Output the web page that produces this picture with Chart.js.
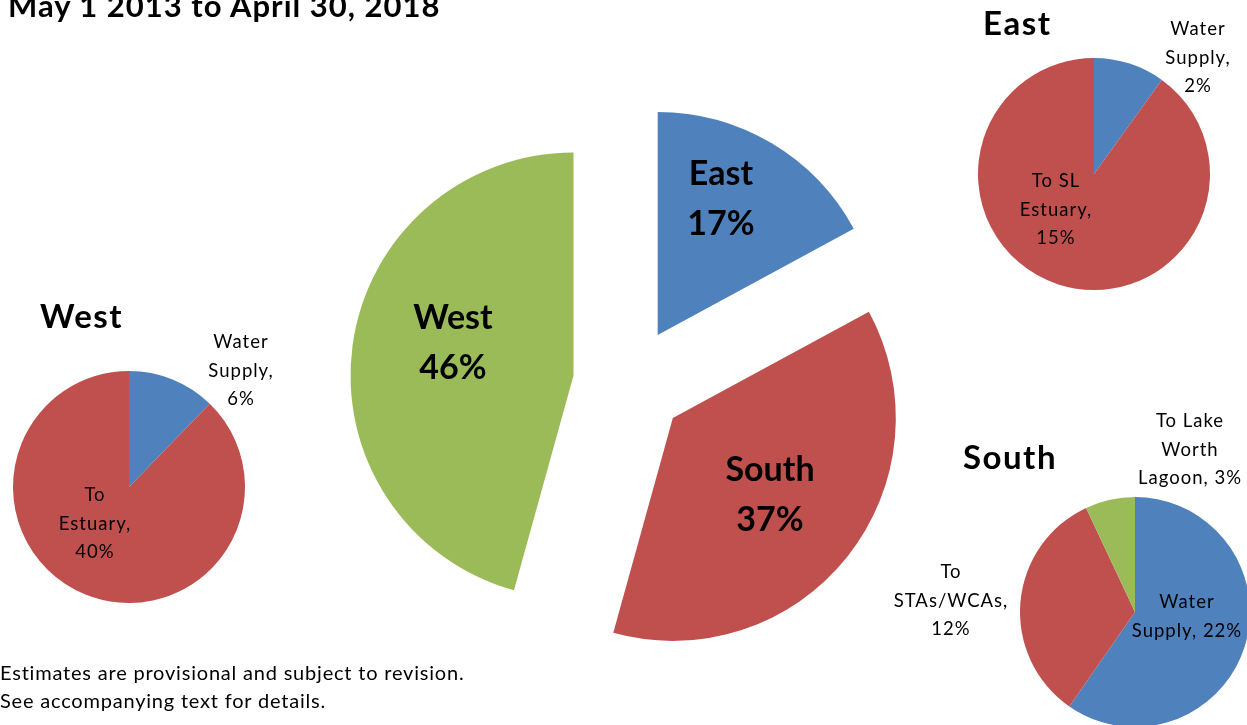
<!DOCTYPE html>
<html>
<head>
<meta charset="utf-8">
<script src="https://cdn.jsdelivr.net/npm/chart.js@4.4.0/dist/chart.umd.min.js"></script>
<style>
  body { margin: 0; background: #fff; }
  #page { position: relative; width: 1247px; height: 725px; overflow: hidden; font-family: Lato, sans-serif; color: #000; }
  #page canvas { position: absolute; left: 0; top: 0; }
  .txt { position: absolute; white-space: nowrap; line-height: 1; }
  .head { font-weight: bold; font-size: 31px; left: 8px; top: -10px; letter-spacing: 1px; }
  .group { font-weight: bold; font-size: 33px; letter-spacing: 1.5px; }
  .note { font-size: 20px; line-height: 28px; left: 0; top: 657.6px; letter-spacing: 0.8px; }
</style>
</head>
<body>
<div id="page">
  <canvas id="mainPie" width="1247" height="725"></canvas>
  <canvas id="eastPie" width="1247" height="725"></canvas>
  <canvas id="westPie" width="1247" height="725"></canvas>
  <canvas id="southPie" width="1247" height="725"></canvas>

  <div class="txt head">May 1 2013 to April 30, 2018</div>
  <div class="txt group" style="left:983px; top:6px;">East</div>
  <div class="txt group" style="left:40px; top:299px;">West</div>
  <div class="txt group" style="left:963px; top:440px;">South</div>
  <div class="txt note">Estimates are provisional and subject to revision.<br>See accompanying text for details.</div>
</div>

<script>
// share of total volume, in percent
const regionLabels = ['East', 'South', 'West'];
const regionValues = [17.1, 37.2, 45.7];

const eastLabels = ['Water Supply', 'To SL Estuary'];
const eastValues = [1.7, 15.4];

const westLabels = ['Water Supply', 'To Estuary'];
const westValues = [5.6, 40.1];

const southLabels = ['Water Supply', 'To STAs/WCAs', 'To Lake Worth Lagoon'];
const southValues = [22.2, 12.4, 2.6];

const BLUE = '#4F81BD', RED = '#C0504D', GREEN = '#9BBB59';
const W = 1247, H = 725;

// where each pie sits on the page
const mainPlace = { cx: 629, cy: 383, r: 223, explode: 56 };
const eastPlace = { cx: 1094, cy: 174, r: 116 };
const westPlace = { cx: 129, cy: 487, r: 116 };
const southPlace = { cx: 1135, cy: 612, r: 115 };

// label anchors, relative to the pie centre (centre x, first baseline)
const mainSpots = [{ dx: 92, dy: -198, wrap: 0 }, { dx: 141, dy: 98, wrap: 0 }, { dx: -176, dy: -54, wrap: 0 }];
const eastSpots = [{ dx: 104, dy: -139, wrap: 90 }, { dx: -38, dy: 13, wrap: 90 }];
const westSpots = [{ dx: 112, dy: -139, wrap: 90 }, { dx: -34, dy: 14, wrap: 90 }];
const southSpots = [{ dx: 52, dy: -4, wrap: 115 }, { dx: -184, dy: -34, wrap: 115 }, { dx: 55, dy: -185, wrap: 115 }];

const bigText = { font: 'bold 34px Lato', sep: ' ', lineHeight: 50, spacing: '0px' };
const smallText = { font: '18.5px Lato', sep: ', ', lineHeight: 28.5, spacing: '1px' };

function wrapWords(ctx, text, maxWidth) {
  const lines = [];
  let line = '';
  text.split(' ').forEach(word => {
    const test = line ? line + ' ' + word : word;
    if (line && ctx.measureText(test).width > maxWidth) {
      lines.push(line);
      line = word;
    } else {
      line = test;
    }
  });
  lines.push(line);
  return lines;
}

// push every slice out along its middle angle, keeping the radius unchanged
function explodePlugin(distance) {
  return {
    id: 'explode',
    beforeDatasetDraw(chart, args) {
      if (!distance) return;
      const ctx = chart.ctx;
      args.meta.data.forEach(arc => {
        const mid = (arc.startAngle + arc.endAngle) / 2;
        ctx.save();
        ctx.translate(Math.cos(mid) * distance, Math.sin(mid) * distance);
        arc.draw(ctx);
        ctx.restore();
      });
      return false;
    }
  };
}

function labelPlugin(spots, style) {
  return {
    id: 'sliceLabels',
    afterDraw(chart) {
      const ctx = chart.ctx;
      const values = chart.data.datasets[0].data;
      const { x: cx, y: cy } = chart.getDatasetMeta(0).data[0];
      ctx.save();
      ctx.font = style.font;
      ctx.letterSpacing = style.spacing;
      ctx.fillStyle = '#000';
      ctx.textAlign = 'center';
      ctx.textBaseline = 'alphabetic';
      chart.data.labels.forEach((name, i) => {
        const s = spots[i];
        const text = name + style.sep + Math.round(values[i]) + '%';
        wrapWords(ctx, text, s.wrap).forEach((line, k) => {
          ctx.fillText(line, cx + s.dx, cy + s.dy + k * style.lineHeight);
        });
      });
      ctx.restore();
    }
  };
}

function drawPie(id, labels, values, colors, place, spots, textStyle) {
  const half = Math.min(place.cx, W - place.cx, place.cy, H - place.cy) - 2;
  return new Chart(document.getElementById(id), {
    type: 'pie',
    data: {
      labels: labels,
      datasets: [{
        data: values,
        backgroundColor: colors,
        borderWidth: 0,
        radius: place.r,
        clip: false
      }]
    },
    options: {
      responsive: false,
      animation: false,
      events: [],
      layout: {
        padding: {
          left: place.cx - half,
          right: W - place.cx - half,
          top: place.cy - half,
          bottom: H - place.cy - half
        }
      },
      plugins: {
        legend: { display: false },
        tooltip: { enabled: false }
      }
    },
    plugins: [explodePlugin(place.explode || 0), labelPlugin(spots, textStyle)]
  });
}

drawPie('mainPie', regionLabels, regionValues, [BLUE, RED, GREEN], mainPlace, mainSpots, bigText);
drawPie('eastPie', eastLabels, eastValues, [BLUE, RED], eastPlace, eastSpots, smallText);
drawPie('westPie', westLabels, westValues, [BLUE, RED], westPlace, westSpots, smallText);
drawPie('southPie', southLabels, southValues, [BLUE, RED, GREEN], southPlace, southSpots, smallText);
</script>
</body>
</html>
